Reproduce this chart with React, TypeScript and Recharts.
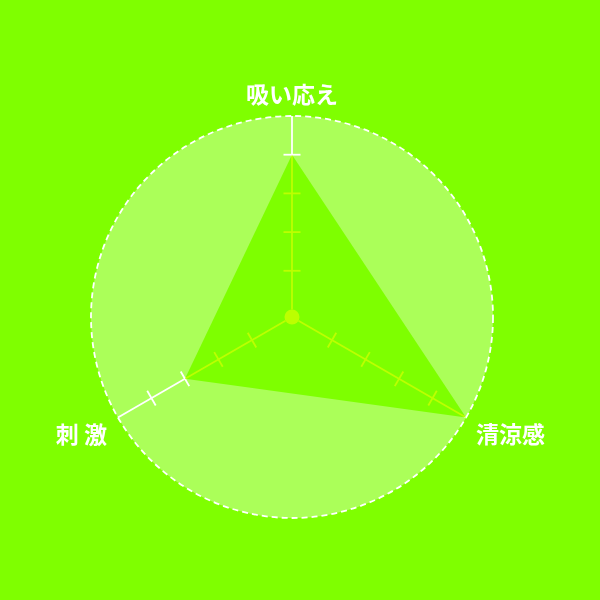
import { RadarChart, Radar, PolarGrid, PolarAngleAxis, PolarRadiusAxis } from 'recharts'

const categories = ['吸い応え', '清涼感', '刺 激']
const scores = [4, 5, 3]
const scaleTicks = [0, 1, 2, 3, 4, 5]
const axisAngles = [90, -30, 210]

const data = categories.map((name, i) => ({ name, score: scores[i] }))

const CX = 292
const CY = 317
const OUTER = 201
const INNER = 7.5

// short cross marks on each radial axis
function radialTick(angle: number) {
  const rad = (angle * Math.PI) / 180
  const dx = Math.sin(rad) * 8.5
  const dy = Math.cos(rad) * 8.5
  return (props: any) => {
    const { x, y, payload } = props
    if (payload.value <= 0 || payload.value >= 5) return <g />
    return <line x1={x - dx} y1={y - dy} x2={x + dx} y2={y + dy} stroke="#fff" strokeWidth={1.8} />
  }
}

function CategoryLabel(props: any) {
  const { payload } = props
  const rad = (payload.coordinate * Math.PI) / 180
  const px = CX + OUTER * Math.cos(rad)
  const py = CY - OUTER * Math.sin(rad)
  const c = Math.cos(rad)
  const anchor = Math.abs(c) < 0.1 ? 'middle' : c > 0 ? 'start' : 'end'
  const x = anchor === 'middle' ? px : px + (c > 0 ? 10 : -11)
  const y = anchor === 'middle' ? py - 23 : py + 15
  return (
    <text x={x} y={y} textAnchor={anchor} dominantBaseline="central" fill="#fff"
      fontSize={23} fontWeight={700} fontFamily='"Noto Sans CJK JP", sans-serif'>
      {payload.value}
    </text>
  )
}

const css = `
.recharts-polar-grid-concentric-circle:nth-of-type(1) { fill: #fff; stroke: none; }
.recharts-polar-grid-concentric-circle:nth-of-type(2) { fill: rgba(255,255,255,0.35); }
.recharts-radar-polygon path { mix-blend-mode: multiply; }
`

export default function App() {
  return (
    <div style={{ position: 'absolute', left: 0, top: 0, width: 600, height: 600, background: '#7fff00' }}>
      <style>{css}</style>
      <RadarChart width={600} height={600} data={data} cx={CX} cy={CY} innerRadius={INNER} outerRadius={OUTER}>
        <PolarGrid gridType="circle" radialLines={false} polarRadius={[INNER, OUTER]}
          stroke="#fff" strokeWidth={1.8} strokeDasharray="6 4" />
        <PolarAngleAxis dataKey="name" axisLine={false} tickLine={false} tick={CategoryLabel} />
        {axisAngles.map((angle, i) => (
          <PolarRadiusAxis key={angle} radiusAxisId={i === 0 ? 0 : 'r' + i} angle={angle}
            type="number" domain={[0, 5]} ticks={scaleTicks} allowDataOverflow zIndex={100}
            axisLine={{ stroke: '#fff', strokeWidth: 1.8 }} tickLine={false} tick={radialTick(angle)} />
        ))}
        <Radar dataKey="score" fill="#bcff00" fillOpacity={1} stroke="none" zIndex={1000}
          isAnimationActive={false} />
      </RadarChart>
    </div>
  )
}
